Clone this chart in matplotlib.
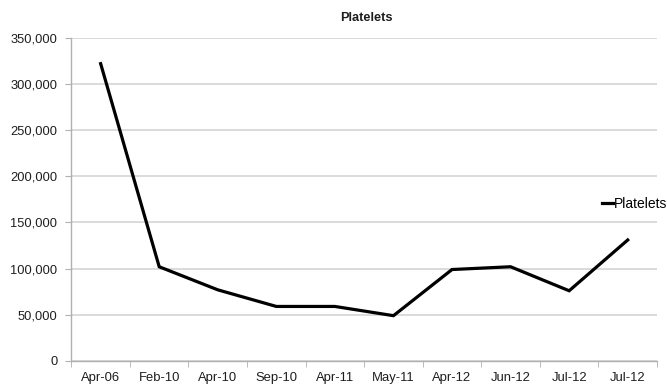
import numpy as np
import matplotlib
matplotlib.use("Agg")
from matplotlib import pyplot as plt
from matplotlib.ticker import FuncFormatter

plt.rcParams['font.family'] = ['Liberation Sans', 'DejaVu Sans']

dates = ['Apr-06', 'Feb-10', 'Apr-10', 'Sep-10', 'Apr-11',
         'May-11', 'Apr-12', 'Jun-12', 'Jul-12', 'Jul-12']
platelets = [322000, 102000, 77000, 59000, 59000,
             49000, 99000, 102000, 76000, 131000]

fig = plt.figure(figsize=(6.67, 3.86), dpi=100)
ax = fig.add_axes([0.107, 0.065, 0.878, 0.837])

x = np.arange(len(dates))
line, = ax.plot(x, platelets, color='black', lw=2.3, solid_joinstyle='miter',
                label='Platelets')

ax.set_xlim(-0.5, len(dates) - 0.5)
ax.set_ylim(0, 350000)
ax.set_yticks(range(0, 350001, 50000))
ax.yaxis.set_major_formatter(FuncFormatter(lambda v, p: f"{int(v):,}"))
ax.set_xticks(x)
ax.set_xticklabels(dates)
ax.set_xticks(np.arange(-0.5, len(dates)), minor=True)

ax.grid(axis='y', color='#d4d4d4', lw=1.2)
ax.set_axisbelow(True)
for s in ['top', 'right']:
    ax.spines[s].set_visible(False)
for s in ['left', 'bottom']:
    ax.spines[s].set_color('#b0b0b0')
    ax.spines[s].set_linewidth(1.0)

ax.tick_params(axis='x', which='major', length=0, pad=8, labelsize=9.4, colors='#1e1e1e')
ax.tick_params(axis='x', which='minor', length=4, color='#b0b0b0')
ax.tick_params(axis='y', length=4, color='#b0b0b0', labelsize=9.3, labelcolor='#1e1e1e', pad=6)

fig.text(0.549, 0.953, 'Platelets', ha='center', va='center',
         fontsize=9.2, fontweight='bold', color='#1e1e1e')

fig.legend(handles=[line], loc='center left', bbox_to_anchor=(0.902, 0.472),
           frameon=False, fontsize=10, handlelength=0.8, handletextpad=0.05,
           borderpad=0, borderaxespad=0)

fig.savefig('out.png', dpi=100)
